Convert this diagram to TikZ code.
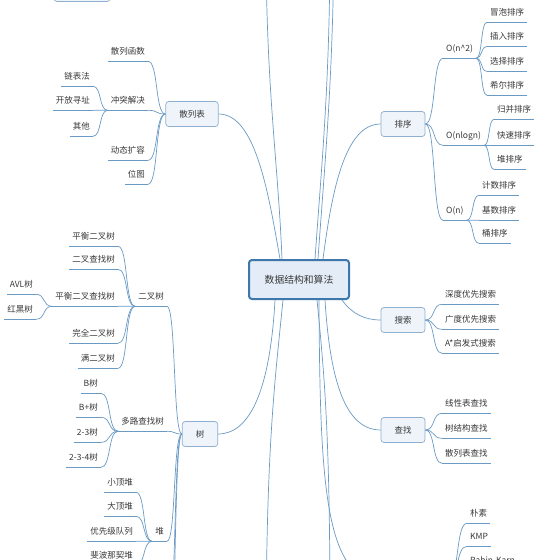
\documentclass[tikz,border=0pt]{standalone}
\usepackage{fontspec}
\newfontfamily\cjk{Noto Sans CJK SC}
\usetikzlibrary{calc}
\definecolor{lnc}{HTML}{6B9AC4}
\definecolor{txc}{HTML}{383838}
\definecolor{bxb}{HTML}{8EAFCF}
\definecolor{bxf}{HTML}{EEF4FA}
\definecolor{cnb}{HTML}{3F77AA}
\definecolor{cnf}{HTML}{E4EDF7}
\newcommand\fanto[2]{\draw[conn] (#1) .. controls ($(#1)!0.6!(#2|-#1)$) and ($(#1|-#2)!0.4!(#2)$) .. (#2);}
\begin{document}
\begin{tikzpicture}[x=1pt,y=-1pt,
  conn/.style={draw=lnc,line width=0.7pt},
  topic/.style={font=\cjk\fontsize{8.5}{9}\selectfont,text=txc,inner xsep=3pt,inner ysep=5pt,text height=6.6pt,text depth=1.6pt},
  lt/.style={topic,anchor=east},
  rt/.style={topic,anchor=west},
  box/.style={draw=bxb,fill=bxf,line width=0.7pt,rounded corners=3pt,minimum height=25pt,inner xsep=13.5pt,font=\cjk\fontsize{8.5}{9}\selectfont,text=txc},
  hub/.style={draw=cnb,fill=cnf,line width=2pt,rounded corners=3pt,minimum height=39pt,minimum width=100pt,font=\cjk\fontsize{9.8}{11}\selectfont,text=txc}]
\fill[white] (0,0) rectangle (560,560);
\useasboundingbox (0,0) rectangle (560,560);
% main nodes
\node[hub] (c) at (299,279.5) {数据结构和算法};
\node[box] (hs) at (192,114) {散列表};
\node[box] (px) at (403,124) {排序};
\node[box] (ss) at (403,320) {搜索};
\node[box] (cz) at (403,430) {查找};
\node[box] (tr) at (200,434) {树};
\node[box,minimum width=56pt] (tbx) at (82,-11) {};
% hash table side
\node[lt] (hf) at (148,52) {散列函数};
\node[lt] (cj) at (148,101) {冲突解决};
\node[lt] (dt) at (148,151) {动态扩容};
\node[lt] (wt) at (148,175) {位图};
\node[lt] (lb) at (93,77) {链表法};
\node[lt] (kf) at (93,101) {开放寻址};
\node[lt] (qt) at (93,127) {其他};
% sorting side
\node[rt] (on2) at (443,49) {O(n\textasciicircum 2)};
\node[rt] (onl) at (443,136) {O(nlogn)};
\node[rt] (on) at (443,211) {O(n)};
\node[rt] (mp) at (487,13) {冒泡排序};
\node[rt] (cr) at (487,37) {插入排序};
\node[rt] (xz) at (487,62) {选择排序};
\node[rt] (xe) at (487,86) {希尔排序};
\node[rt] (gb) at (494,110) {归并排序};
\node[rt] (ks) at (494,136) {快速排序};
\node[rt] (dp) at (494,160) {堆排序};
\node[rt] (js) at (479,186) {计数排序};
\node[rt] (jis) at (479,211) {基数排序};
\node[rt] (tp) at (479,234) {桶排序};
% search
\node[rt] (sd) at (442,295) {深度优先搜索};
\node[rt] (gd) at (442,320) {广度优先搜索};
\node[rt] (as) at (442,344) {A*启发式搜索};
% lookup
\node[rt] (xx) at (442,404) {线性表查找};
\node[rt] (sj) at (442,429) {树结构查找};
\node[rt] (sl) at (442,454) {散列表查找};
% string matching children
\node[rt] (ps) at (467,514) {朴素};
\node[rt] (kmp) at (467,537) {KMP};
\node[rt] (rk) at (467,561) {Rabin-Karp};
% tree
\node[lt] (ec) at (167,297) {二叉树};
\node[lt] (dl) at (167,422) {多路查找树};
\node[lt] (dui) at (167,532) {堆};
\node[lt] (ph) at (118,237) {平衡二叉树};
\node[lt] (ecz) at (118,260) {二叉查找树};
\node[lt] (phc) at (118,297) {平衡二叉查找树};
\node[lt] (wq) at (118,334) {完全二叉树};
\node[lt] (me) at (118,359) {满二叉树};
\node[lt] (avl) at (36,285) {AVL树};
\node[lt] (hh) at (36,310) {红黑树};
\node[lt] (bs) at (101,384) {B树};
\node[lt] (bp) at (101,408) {B+树};
\node[lt] (s23) at (101,433) {2-3树};
\node[lt] (s234) at (101,458) {2-3-4树};
\node[lt] (xd) at (136,483) {小顶堆};
\node[lt] (dd) at (136,507) {大顶堆};
\node[lt] (yx) at (136,532) {优先级队列};
\node[lt] (fb) at (136,556) {斐波那契堆};
% off-frame ends
\coordinate (ta) at (266,-60);
\coordinate (tb1) at (330,-60);
\coordinate (tb2) at (334,-60);
\coordinate (ba) at (266,620);
\coordinate (bb) at (330,620);
\coordinate (strW) at (379,580);
\coordinate (strE) at (448,580);
\coordinate (t4) at (168,620);
\coordinate (t5) at (168,680);
% underlines
\foreach \n in {hf,cj,dt,wt,lb,kf,qt,on2,onl,on,mp,cr,xz,xe,gb,ks,dp,js,jis,tp,sd,gd,as,xx,sj,sl,ps,kmp,rk,ec,dl,dui,ph,ecz,phc,wq,me,avl,hh,bs,bp,s23,s234,xd,dd,yx,fb}
  \draw[conn] (\n.south west) -- (\n.south east);
% central connectors
\draw[conn] ($(c.north)+(-19,0)$) .. controls (268,190) and (255,114) .. (hs.east);
\draw[conn] ($(c.north)+(-17,0)$) .. controls (278,160) and (266,90) .. (ta);
\draw[conn] ($(c.north)+(16,0)$) .. controls (322,160) and (330,80) .. (tb1);
\draw[conn] ($(c.north)+(19,0)$) .. controls (325,160) and (333,80) .. (tb2);
\draw[conn] ($(c.north)+(24,0)$) .. controls (332,190) and (345,124) .. (px.west);
\draw[conn] ($(c.south)+(-24,0)$) .. controls (270,390) and (250,434) .. (tr.east);
\draw[conn] ($(c.south)+(-16,0)$) .. controls (275,380) and (267,440) .. (ba);
\draw[conn] ($(c.south)+(18,0)$) .. controls (325,380) and (330,440) .. (bb);
\draw[conn] ($(c.south)+(20,0)$) .. controls (320,470) and (323,580) .. (strW);
\draw[conn] ($(c.south)+(26,0)$) .. controls (330,380) and (345,430) .. (cz.west);
\draw[conn] ($(c.south east)+(-8,0)$) .. controls (352,314) and (365,320) .. (ss.west);
% fans left
\foreach \k in {hf,cj,dt,wt} {\fanto{hs.west}{\k.south east}}
\foreach \k in {lb,kf,qt} {\fanto{cj.south west}{\k.south east}}
\foreach \k in {ec,dl,dui} {\fanto{tr.west}{\k.south east}}
\fanto{tr.west}{t4}
\fanto{tr.west}{t5}
\foreach \k in {ph,ecz,phc,wq,me} {\fanto{ec.south west}{\k.south east}}
\foreach \k in {avl,hh} {\fanto{phc.south west}{\k.south east}}
\foreach \k in {bs,bp,s23,s234} {\fanto{dl.south west}{\k.south east}}
\foreach \k in {xd,dd,yx,fb} {\fanto{dui.south west}{\k.south east}}
% fans right
\foreach \k in {on2,onl,on} {\fanto{px.east}{\k.south west}}
\foreach \k in {mp,cr,xz,xe} {\fanto{on2.south east}{\k.south west}}
\foreach \k in {gb,ks,dp} {\fanto{onl.south east}{\k.south west}}
\foreach \k in {js,jis,tp} {\fanto{on.south east}{\k.south west}}
\foreach \k in {sd,gd,as} {\fanto{ss.east}{\k.south west}}
\foreach \k in {xx,sj,sl} {\fanto{cz.east}{\k.south west}}
\foreach \k in {ps,kmp,rk} {\fanto{strE}{\k.south west}}
\end{tikzpicture}
\end{document}
